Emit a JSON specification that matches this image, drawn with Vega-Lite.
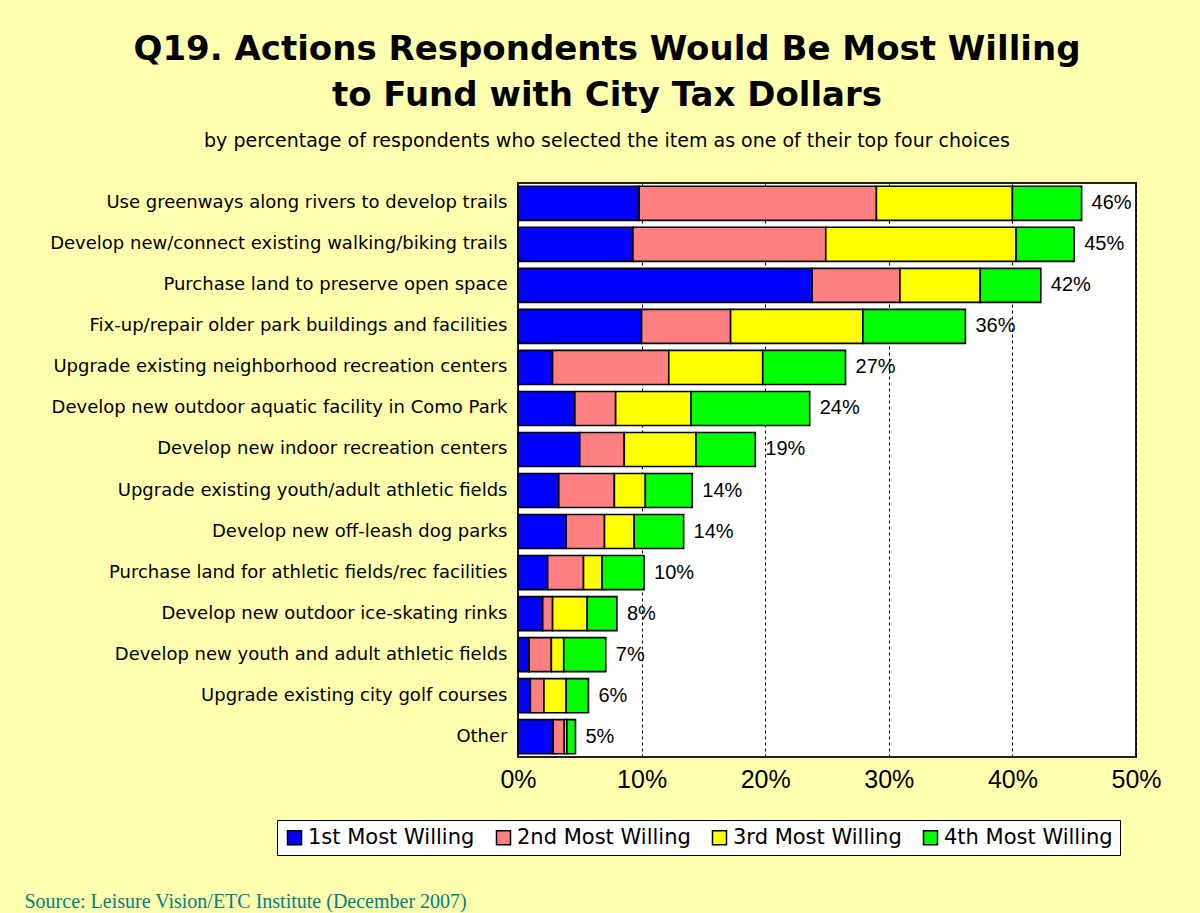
{
  "$schema": "https://vega.github.io/schema/vega-lite/v6.json",
  "width": 618,
  "height": 574,
  "autosize": {"type": "none"},
  "padding": {"left": 518, "top": 183, "right": 64, "bottom": 156},
  "background": "#FFFFB0",
  "title": {
    "text": ["Q19. Actions Respondents Would Be Most Willing", "to Fund with City Tax Dollars"],
    "subtitle": "by percentage of respondents who selected the item as one of their top four choices",
    "anchor": "middle",
    "frame": "group",
    "dx": -220,
    "offset": 32,
    "font": "DejaVu Sans",
    "fontSize": 34,
    "fontWeight": "bold",
    "lineHeight": 46,
    "color": "#000000",
    "subtitleFont": "DejaVu Sans",
    "subtitleFontSize": 19,
    "subtitleColor": "#000000",
    "subtitlePadding": 19
  },
  "data": {
    "values": [
      {"item": "Use greenways along rivers to develop trails", "series": "1st Most Willing", "value": 9.8, "label": "46%"},
      {"item": "Use greenways along rivers to develop trails", "series": "2nd Most Willing", "value": 19.2, "label": "46%"},
      {"item": "Use greenways along rivers to develop trails", "series": "3rd Most Willing", "value": 11.0, "label": "46%"},
      {"item": "Use greenways along rivers to develop trails", "series": "4th Most Willing", "value": 5.6, "label": "46%"},
      {"item": "Develop new/connect existing walking/biking trails", "series": "1st Most Willing", "value": 9.3, "label": "45%"},
      {"item": "Develop new/connect existing walking/biking trails", "series": "2nd Most Willing", "value": 15.6, "label": "45%"},
      {"item": "Develop new/connect existing walking/biking trails", "series": "3rd Most Willing", "value": 15.4, "label": "45%"},
      {"item": "Develop new/connect existing walking/biking trails", "series": "4th Most Willing", "value": 4.7, "label": "45%"},
      {"item": "Purchase land to preserve open space", "series": "1st Most Willing", "value": 23.8, "label": "42%"},
      {"item": "Purchase land to preserve open space", "series": "2nd Most Willing", "value": 7.1, "label": "42%"},
      {"item": "Purchase land to preserve open space", "series": "3rd Most Willing", "value": 6.5, "label": "42%"},
      {"item": "Purchase land to preserve open space", "series": "4th Most Willing", "value": 4.9, "label": "42%"},
      {"item": "Fix-up/repair older park buildings and facilities", "series": "1st Most Willing", "value": 10.0, "label": "36%"},
      {"item": "Fix-up/repair older park buildings and facilities", "series": "2nd Most Willing", "value": 7.2, "label": "36%"},
      {"item": "Fix-up/repair older park buildings and facilities", "series": "3rd Most Willing", "value": 10.7, "label": "36%"},
      {"item": "Fix-up/repair older park buildings and facilities", "series": "4th Most Willing", "value": 8.3, "label": "36%"},
      {"item": "Upgrade existing neighborhood recreation centers", "series": "1st Most Willing", "value": 2.8, "label": "27%"},
      {"item": "Upgrade existing neighborhood recreation centers", "series": "2nd Most Willing", "value": 9.4, "label": "27%"},
      {"item": "Upgrade existing neighborhood recreation centers", "series": "3rd Most Willing", "value": 7.6, "label": "27%"},
      {"item": "Upgrade existing neighborhood recreation centers", "series": "4th Most Willing", "value": 6.7, "label": "27%"},
      {"item": "Develop new outdoor aquatic facility in Como Park", "series": "1st Most Willing", "value": 4.6, "label": "24%"},
      {"item": "Develop new outdoor aquatic facility in Como Park", "series": "2nd Most Willing", "value": 3.3, "label": "24%"},
      {"item": "Develop new outdoor aquatic facility in Como Park", "series": "3rd Most Willing", "value": 6.1, "label": "24%"},
      {"item": "Develop new outdoor aquatic facility in Como Park", "series": "4th Most Willing", "value": 9.6, "label": "24%"},
      {"item": "Develop new indoor recreation centers", "series": "1st Most Willing", "value": 5.0, "label": "19%"},
      {"item": "Develop new indoor recreation centers", "series": "2nd Most Willing", "value": 3.6, "label": "19%"},
      {"item": "Develop new indoor recreation centers", "series": "3rd Most Willing", "value": 5.8, "label": "19%"},
      {"item": "Develop new indoor recreation centers", "series": "4th Most Willing", "value": 4.8, "label": "19%"},
      {"item": "Upgrade existing youth/adult athletic fields", "series": "1st Most Willing", "value": 3.3, "label": "14%"},
      {"item": "Upgrade existing youth/adult athletic fields", "series": "2nd Most Willing", "value": 4.5, "label": "14%"},
      {"item": "Upgrade existing youth/adult athletic fields", "series": "3rd Most Willing", "value": 2.5, "label": "14%"},
      {"item": "Upgrade existing youth/adult athletic fields", "series": "4th Most Willing", "value": 3.8, "label": "14%"},
      {"item": "Develop new off-leash dog parks", "series": "1st Most Willing", "value": 3.9, "label": "14%"},
      {"item": "Develop new off-leash dog parks", "series": "2nd Most Willing", "value": 3.1, "label": "14%"},
      {"item": "Develop new off-leash dog parks", "series": "3rd Most Willing", "value": 2.4, "label": "14%"},
      {"item": "Develop new off-leash dog parks", "series": "4th Most Willing", "value": 4.0, "label": "14%"},
      {"item": "Purchase land for athletic fields/rec facilities", "series": "1st Most Willing", "value": 2.4, "label": "10%"},
      {"item": "Purchase land for athletic fields/rec facilities", "series": "2nd Most Willing", "value": 2.9, "label": "10%"},
      {"item": "Purchase land for athletic fields/rec facilities", "series": "3rd Most Willing", "value": 1.5, "label": "10%"},
      {"item": "Purchase land for athletic fields/rec facilities", "series": "4th Most Willing", "value": 3.4, "label": "10%"},
      {"item": "Develop new outdoor ice-skating rinks", "series": "1st Most Willing", "value": 2.0, "label": "8%"},
      {"item": "Develop new outdoor ice-skating rinks", "series": "2nd Most Willing", "value": 0.8, "label": "8%"},
      {"item": "Develop new outdoor ice-skating rinks", "series": "3rd Most Willing", "value": 2.8, "label": "8%"},
      {"item": "Develop new outdoor ice-skating rinks", "series": "4th Most Willing", "value": 2.4, "label": "8%"},
      {"item": "Develop new youth and adult athletic fields", "series": "1st Most Willing", "value": 0.9, "label": "7%"},
      {"item": "Develop new youth and adult athletic fields", "series": "2nd Most Willing", "value": 1.8, "label": "7%"},
      {"item": "Develop new youth and adult athletic fields", "series": "3rd Most Willing", "value": 1.0, "label": "7%"},
      {"item": "Develop new youth and adult athletic fields", "series": "4th Most Willing", "value": 3.4, "label": "7%"},
      {"item": "Upgrade existing city golf courses", "series": "1st Most Willing", "value": 1.0, "label": "6%"},
      {"item": "Upgrade existing city golf courses", "series": "2nd Most Willing", "value": 1.1, "label": "6%"},
      {"item": "Upgrade existing city golf courses", "series": "3rd Most Willing", "value": 1.8, "label": "6%"},
      {"item": "Upgrade existing city golf courses", "series": "4th Most Willing", "value": 1.8, "label": "6%"},
      {"item": "Other", "series": "1st Most Willing", "value": 2.85, "label": "5%"},
      {"item": "Other", "series": "2nd Most Willing", "value": 0.9, "label": "5%"},
      {"item": "Other", "series": "3rd Most Willing", "value": 0.2, "label": "5%"},
      {"item": "Other", "series": "4th Most Willing", "value": 0.7, "label": "5%"}
    ]
  },
  "encoding": {
    "y": {
      "field": "item",
      "type": "nominal",
      "sort": [
        "Use greenways along rivers to develop trails",
        "Develop new/connect existing walking/biking trails",
        "Purchase land to preserve open space",
        "Fix-up/repair older park buildings and facilities",
        "Upgrade existing neighborhood recreation centers",
        "Develop new outdoor aquatic facility in Como Park",
        "Develop new indoor recreation centers",
        "Upgrade existing youth/adult athletic fields",
        "Develop new off-leash dog parks",
        "Purchase land for athletic fields/rec facilities",
        "Develop new outdoor ice-skating rinks",
        "Develop new youth and adult athletic fields",
        "Upgrade existing city golf courses",
        "Other"
      ],
      "scale": {"paddingInner": 0.17, "paddingOuter": 0.08},
      "axis": {
        "title": null,
        "ticks": false,
        "domain": false,
        "labelFont": "DejaVu Sans",
        "labelFontSize": 18,
        "labelColor": "#000000",
        "labelPadding": 11,
        "labelLimit": 500
      }
    }
  },
  "layer": [
    {
      "mark": {"type": "bar", "stroke": "#000000", "strokeWidth": 1.6},
      "encoding": {
        "x": {
          "field": "value",
          "type": "quantitative",
          "stack": "zero",
          "scale": {"domain": [0, 50], "nice": false},
          "axis": {
            "values": [0, 10, 20, 30, 40, 50],
            "labelExpr": "datum.value + '%'",
            "labelFont": "Liberation Sans",
            "labelFontSize": 25,
            "labelColor": "#000000",
            "labelPadding": 10,
            "labelFlush": false,
            "ticks": false,
            "domain": false,
            "grid": true,
            "gridColor": "#000000",
            "gridDash": [3, 3],
            "gridWidth": 1,
            "gridOpacity": 1,
            "title": "Source:  Leisure Vision/ETC Institute (December 2007)",
            "titleFont": "Liberation Serif",
            "titleFontSize": 20,
            "titleFontWeight": "normal",
            "titleColor": "#008080",
            "titleX": -494,
            "titleY": 150,
            "titleAlign": "left",
            "titleAnchor": "start",
            "titleBaseline": "alphabetic"
          }
        },
        "color": {
          "field": "series",
          "type": "nominal",
          "scale": {
            "domain": ["1st Most Willing", "2nd Most Willing", "3rd Most Willing", "4th Most Willing"],
            "range": ["#0000FF", "#FF8080", "#FFFF00", "#00FF00"]
          },
          "legend": {
            "orient": "none",
            "legendX": -241,
            "legendY": 637,
            "direction": "horizontal",
            "title": null,
            "fillColor": "#FFFFFF",
            "strokeColor": "#000000",
            "padding": 7,
            "symbolType": "square",
            "symbolSize": 196,
            "symbolStrokeColor": "#000000",
            "symbolStrokeWidth": 1.5,
            "symbolOpacity": 1,
            "labelFont": "DejaVu Sans",
            "labelFontSize": 21,
            "labelColor": "#000000",
            "labelOffset": 3,
            "labelLimit": 400,
            "columnPadding": 18
          }
        },
        "order": {"field": "series", "sort": "ascending"}
      }
    },
    {
      "transform": [
        {"aggregate": [{"op": "sum", "field": "value", "as": "total"}], "groupby": ["item", "label"]}
      ],
      "mark": {"type": "text", "align": "left", "baseline": "middle", "dx": 10, "font": "Liberation Sans", "fontSize": 20, "color": "#000000"},
      "encoding": {
        "x": {"field": "total", "type": "quantitative"},
        "text": {"field": "label"}
      }
    }
  ],
  "config": {
    "view": {"fill": "#FFFFFF", "stroke": "#222222", "strokeWidth": 2}
  }
}
